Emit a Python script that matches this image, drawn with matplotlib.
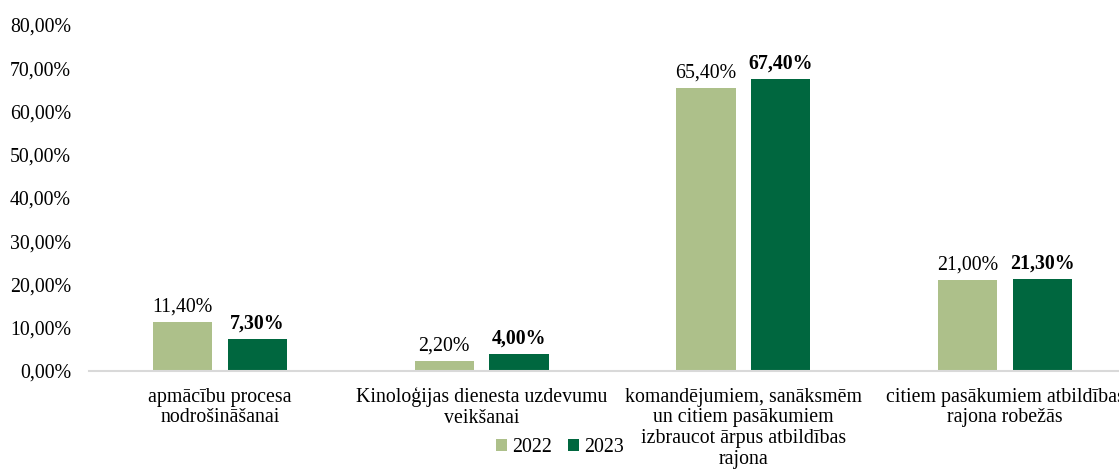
import matplotlib
matplotlib.use("Agg")
import matplotlib.pyplot as plt
import numpy as np

categories = [
    "apmācību procesa\nnodrošināšanai",
    "Kinoloģijas dienesta uzdevumu\nveikšanai",
    "komandējumiem, sanāksmēm\nun citiem pasākumiem\nizbraucot ārpus atbildības\nrajona",
    "citiem pasākumiem atbildības\nrajona robežās",
]
values_2022 = [11.40, 2.20, 65.40, 21.00]
values_2023 = [7.30, 4.00, 67.40, 21.30]
series_labels = ["2022", "2023"]
yticks = [0, 10, 20, 30, 40, 50, 60, 70, 80]

c_light = "#ADC08A"
c_dark = "#00673F"

plt.rcParams["font.family"] = ["Liberation Serif", "DejaVu Serif"]
FS = 14.3

fig = plt.figure(figsize=(11.19, 4.73), dpi=100)
ax = fig.add_axes([89 / 1119, 1 - 371 / 473, 1047 / 1119, 346 / 473])

x = np.arange(len(categories))
w = 0.226
off = 0.143
b1 = ax.bar(x - off, values_2022, w, color=c_light, label=series_labels[0])
b2 = ax.bar(x + off, values_2023, w, color=c_dark, label=series_labels[1])

def fmt(v):
    return f"{v:.2f}".replace(".", ",") + "%"

for xi, v in zip(x, values_2022):
    ax.annotate(fmt(v), (xi - off, v), xytext=(0, 4), textcoords="offset points",
                ha="center", va="bottom", fontsize=FS)
for xi, v in zip(x, values_2023):
    ax.annotate(fmt(v), (xi + off, v), xytext=(0, 4), textcoords="offset points",
                ha="center", va="bottom", fontsize=FS, fontweight="bold")

ax.set_xlim(-0.5, len(categories) - 0.5)
ax.set_ylim(0, 80)
ax.set_yticks(yticks)
ax.set_yticklabels([f"{t:.2f}".replace(".", ",") + "%" for t in yticks], fontsize=FS)
ax.set_xticks(x)
ax.set_xticklabels(categories, fontsize=FS, linespacing=1.12)
ax.tick_params(axis="both", length=0)
ax.tick_params(axis="y", pad=13)
ax.tick_params(axis="x", pad=12)

for s in ["top", "right", "left"]:
    ax.spines[s].set_visible(False)
ax.spines["bottom"].set_color("#D9D9D9")
ax.spines["bottom"].set_linewidth(1.5)

fig.legend(handles=[b1, b2], labels=series_labels, loc="center",
           bbox_to_anchor=(560 / 1119, 1 - 448 / 473), ncol=2, frameon=False,
           fontsize=FS, handlelength=0.55, handleheight=0.55, handletextpad=0.25,
           columnspacing=0.8)

fig.savefig("out.png", dpi=100)
